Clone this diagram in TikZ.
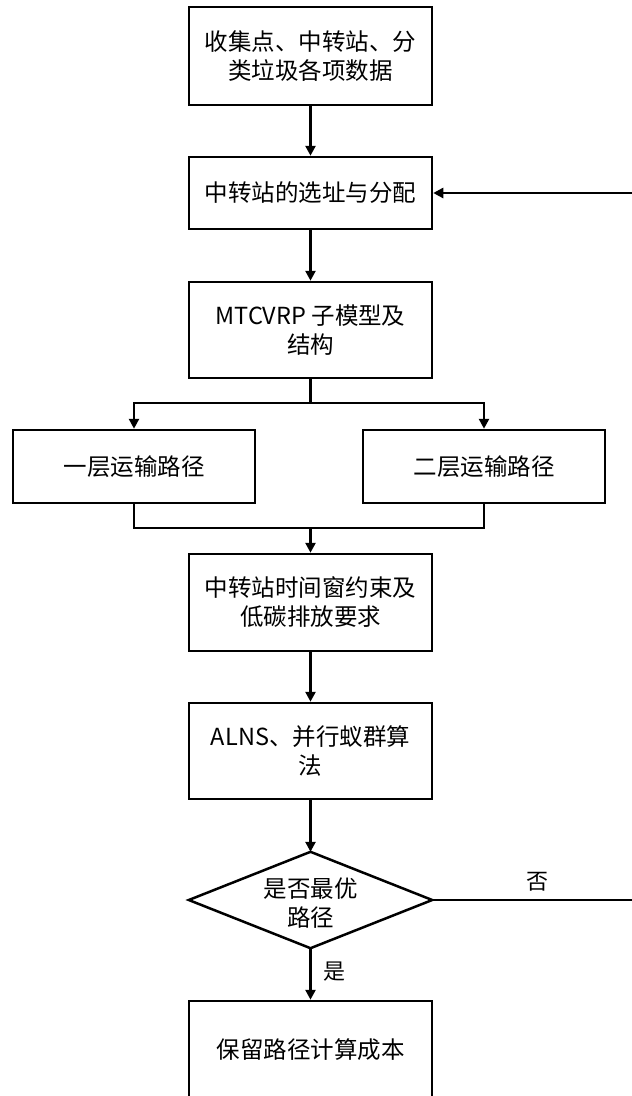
\documentclass[tikz,border=0pt]{standalone}
\usepackage{fontspec}
\setmainfont{Noto Sans CJK SC}
\usetikzlibrary{arrows.meta}
\begin{document}
\begin{tikzpicture}[x=1pt,y=-1pt,
  font=\fontsize{23.5}{29}\selectfont,
  box/.style={draw,line width=2.5pt,minimum width=243pt,inner sep=0pt,align=center,fill=white},
  arr/.style={line width=2.5pt,-{Triangle[length=10pt,width=10pt]}},
  ln/.style={line width=2.5pt},
  lbl/.style={font=\fontsize{22}{26}\selectfont}]
\useasboundingbox (0,0) rectangle (632,1096);
\node[box,minimum height=98pt] (b1) at (310.5,56) {收集点、中转站、分\\类垃圾各项数据};
\node[box,minimum height=72pt] (b2) at (310.5,193) {中转站的选址与分配};
\node[box,minimum height=96pt] (b3) at (310.5,330) {MTCVRP 子模型及\\结构};
\node[box,minimum width=242pt,minimum height=73pt] (L) at (134,466.5) {一层运输路径};
\node[box,minimum width=242pt,minimum height=73pt] (R) at (484,466.5) {二层运输路径};
\node[box,minimum height=97pt] (b4) at (310.5,602.5) {中转站时间窗约束及\\低碳排放要求};
\node[box,minimum height=96pt] (b5) at (310.5,751) {ALNS、并行蚁群算\\法};
\node[minimum width=243pt,minimum height=96pt,inner sep=0pt] (dec) at (310.5,900) {};
\draw[ln,line join=miter] (dec.north) -- (dec.east) -- (dec.south) -- (dec.west) -- cycle;
\node[align=center,inner sep=0pt] (dect) at (310.5,903) {是否最优\\路径};
\node[box,minimum height=98pt] (b6) at (310.5,1050) {保留路径计算成本};
\coordinate (split) at (310.5,403);
\coordinate (merge) at (310.5,528);
\coordinate (fb) at (645,900);
\draw[arr] (b1.south) -- (b2.north);
\draw[arr] (b2.south) -- (b3.north);
\draw[ln] (b3.south) -- (split);
\draw[arr] (split) -| (L.north);
\draw[arr] (split) -| (R.north);
\draw[ln] (L.south) |- (merge) -| (R.south);
\draw[arr] (merge) -- (b4.north);
\draw[arr] (b4.south) -- (b5.north);
\draw[arr] (b5.south) -- (dec.north);
\draw[arr] (dec.south) -- node[lbl,right=8pt,pos=0.45] (yes) {是} (b6.north);
\draw[arr] (dec.east) -- (fb) |- (b2.east);
\node[lbl] (no) at (537,882) {否};
\end{tikzpicture}
\end{document}
